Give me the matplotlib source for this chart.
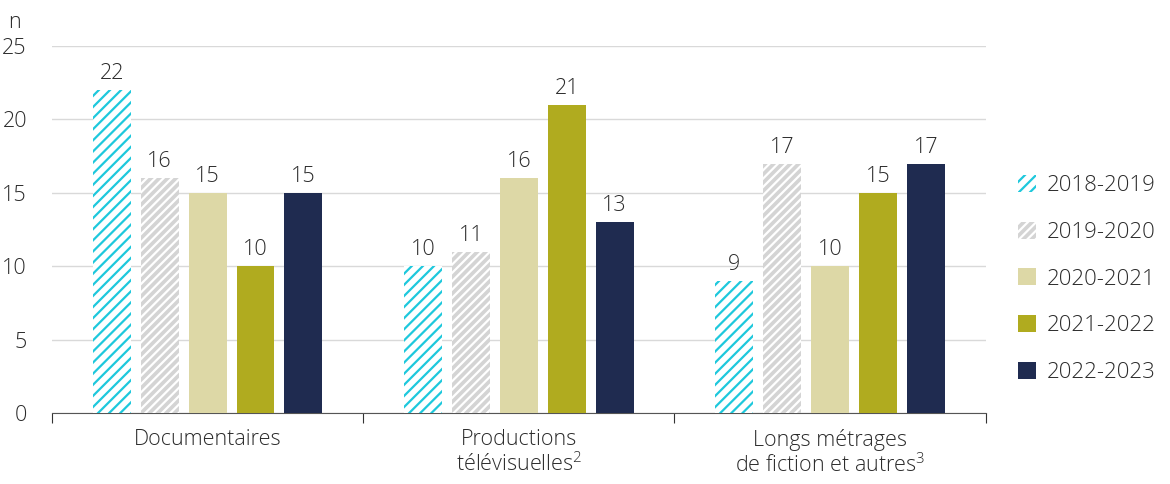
import numpy as np
import matplotlib.pyplot as plt
from matplotlib.patches import Patch

plt.rcParams['font.family'] = ['Open Sans', 'DejaVu Sans']
plt.rcParams['font.weight'] = 'light'
plt.rcParams['mathtext.default'] = 'regular'
plt.rcParams['hatch.linewidth'] = 1.6

# Données
categories = ['Documentaires', 'Productions\ntélévisuelles$^2$',
              'Longs métrages\nde fiction et autres$^3$']
periodes = ['2018-2019', '2019-2020', '2020-2021', '2021-2022', '2022-2023']
v_2018 = [22, 10, 9]
v_2019 = [16, 11, 17]
v_2020 = [15, 16, 10]
v_2021 = [10, 21, 15]
v_2022 = [15, 13, 17]
series = [v_2018, v_2019, v_2020, v_2021, v_2022]

# Styles
faces = ['white', '#d4d4d4', '#ddd8a6', '#b0ab1f', '#1f2b50']
edges = ['#1ec8dc', 'white', '#ddd8a6', '#b0ab1f', '#1f2b50']
hatches = ['///', '////', None, None, None]
txt = '#2b2b2b'
fs = 15.5

fig = plt.figure(figsize=(11.7, 4.84), dpi=100)
ax = fig.add_axes([0.0444, 0.1467, 0.798, 0.758])

x = np.arange(len(categories))
step = 0.154
width = 0.122
for i, vals in enumerate(series):
    pos = x + (i - 2) * step
    bars = ax.bar(pos, vals, width, color=faces[i], edgecolor=edges[i],
                  hatch=hatches[i], linewidth=0, zorder=3)
    for b, v in zip(bars, vals):
        ax.text(b.get_x() + b.get_width() / 2, v + 0.4, str(v),
                ha='center', va='bottom', fontsize=fs, color=txt)

ax.set_xlim(-0.5, 2.5)
ax.set_ylim(0, 25)
ax.set_yticks(range(0, 26, 5))
ax.yaxis.grid(True, color='#d9d9d9', linewidth=1, zorder=0)
ax.tick_params(axis='y', length=0, labelsize=fs, labelcolor=txt, pad=18)
for s in ['top', 'right', 'left']:
    ax.spines[s].set_visible(False)
ax.spines['bottom'].set_color('#555555')

# Ticks aux séparations de groupes
ax.set_xticks([-0.5, 0.5, 1.5, 2.5])
ax.set_xticklabels([])
ax.tick_params(axis='x', length=7, color='#333333', direction='out')
for xi, lab in zip(x, categories):
    ax.text(xi, -1.1, lab, ha='center', va='top', fontsize=fs,
            color=txt, linespacing=1.1)

ax.text(-0.64, 25.9, 'n', fontsize=fs, color=txt, ha='left', va='bottom')

handles = [Patch(facecolor=faces[i], edgecolor=edges[i], hatch=hatches[i],
                 linewidth=0) for i in range(5)]
fig.legend(handles, periodes, loc='upper left', bbox_to_anchor=(0.853, 0.68),
           frameon=False, fontsize=16, labelcolor=txt, handlelength=0.8,
           handleheight=0.8, labelspacing=1.15, handletextpad=0.5)

fig.savefig('out.png', dpi=100)
